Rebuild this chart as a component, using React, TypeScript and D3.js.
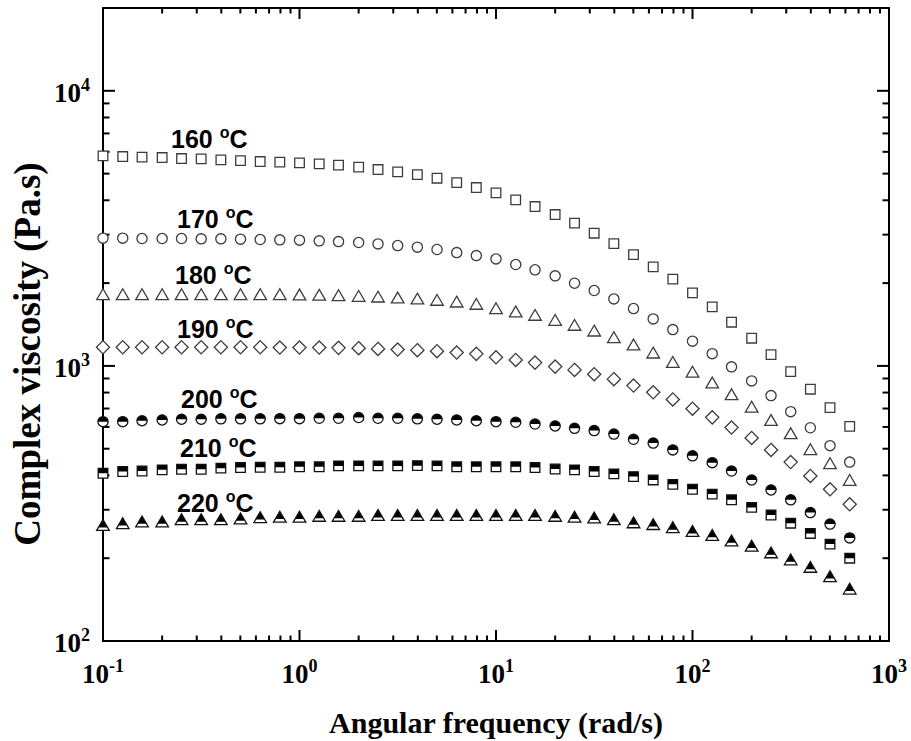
import React from "react";
import * as d3 from "d3";

// Angular frequency (rad/s)
const freq = [
  0.1, 0.126, 0.158, 0.2, 0.251, 0.316, 0.398, 0.501, 0.631, 0.794,
  1, 1.26, 1.58, 2, 2.51, 3.16, 3.98, 5.01, 6.31, 7.94,
  10, 12.6, 15.8, 20, 25.1, 31.6, 39.8, 50.1, 63.1, 79.4,
  100, 126, 158, 200, 251, 316, 398, 501, 631,
];

// Complex viscosity (Pa.s) per temperature
const eta160 = [
  5801, 5768, 5740, 5720, 5672, 5657, 5610, 5577, 5531, 5503,
  5471, 5425, 5367, 5278, 5173, 5075, 4960, 4813, 4639, 4450,
  4256, 4014, 3796, 3550, 3303, 3037, 2784, 2539, 2291, 2067,
  1843, 1639, 1442, 1261, 1099, 953, 823, 705, 603,
];
const eta170 = [
  2913, 2913, 2904, 2904, 2904, 2896, 2896, 2889, 2880, 2872,
  2865, 2848, 2831, 2808, 2777, 2738, 2702, 2649, 2582, 2518,
  2449, 2336, 2235, 2125, 1998, 1879, 1752, 1616, 1482, 1355,
  1230, 1108, 992, 882, 780, 682, 596, 513, 447,
];
const eta180 = [
  1823, 1823, 1823, 1823, 1823, 1823, 1823, 1823, 1823, 1823,
  1817, 1813, 1808, 1797, 1786, 1772, 1757, 1738, 1713, 1681,
  1621, 1576, 1533, 1470, 1410, 1344, 1272, 1196, 1118, 1034,
  953, 870, 789, 711, 636, 569, 498, 443, 385,
];
const eta190 = [
  1169, 1169, 1169, 1169, 1169, 1169, 1169, 1169, 1169, 1166,
  1166, 1166, 1163, 1160, 1153, 1147, 1141, 1131, 1118, 1106,
  1075, 1051, 1028, 994, 967, 933, 895, 848, 802, 755,
  699, 650, 597, 547, 495, 447, 398, 356, 314,
];
const eta200 = [
  627, 627, 632, 636, 640, 640, 642, 642, 642, 643,
  643, 645, 645, 649, 645, 645, 642, 640, 636, 632,
  627, 624, 615, 605, 593, 582, 565, 541, 524, 495,
  471, 445, 415, 385, 354, 326, 293, 266, 237,
];
const eta210 = [
  407, 413, 415, 419, 421, 421, 425, 427, 428, 428,
  430, 430, 433, 433, 433, 433, 434, 433, 430, 430,
  430, 430, 427, 422, 419, 413, 405, 396, 385, 371,
  356, 342, 326, 306, 287, 268, 246, 225, 200,
];
const eta220 = [
  264, 268, 272, 272, 277, 277, 277, 279, 282, 283,
  283, 285, 285, 285, 287, 287, 287, 287, 287, 287,
  287, 287, 287, 285, 283, 281, 277, 270, 266, 259,
  251, 243, 232, 222, 210, 198, 186, 172, 155,
];

const temps = ["160", "170", "180", "190", "200", "210", "220"];
const seriesValues = [eta160, eta170, eta180, eta190, eta200, eta210, eta220];
const markerShapes = ["square", "circle", "triangle", "diamond", "circle", "square", "triangle"];
const markerHalf = [false, false, false, false, true, true, true];

// label layout (pixel anchors, start x / baseline y)
const labelLayout = [
  [171, 148], [177, 228], [175, 284], [177, 338], [181, 408], [180, 457], [177, 512],
];

const W = 911;
const H = 741;
const L = 103, R = 889, T = 8, B = 641;

function shapePath(shape: string): string {
  if (shape === "square") {
    const s = 4.8;
    return `M${-s},${-s}H${s}V${s}H${-s}Z`;
  }
  if (shape === "circle") {
    const r = 5.1;
    return `M${r},0A${r},${r} 0 1,1 ${-r},0A${r},${r} 0 1,1 ${r},0Z`;
  }
  if (shape === "triangle") {
    const w = 6.3, h = 5.4;
    return `M0,${-h}L${w},${h}L${-w},${h}Z`;
  }
  const d = 6.6;
  return `M0,${-d}L${d},0L0,${d}L${-d},0Z`;
}

export default function App() {
  const x = d3.scaleLog().domain([0.1, 1000]).range([L, R]);
  const y = d3.scaleLog().domain([100, 20000]).range([B, T]);

  const xt = x.ticks();
  const yt = y.ticks();
  const isMajor = (v: number) => Math.abs(Math.log10(v) - Math.round(Math.log10(v))) < 1e-6;

  const tickEls: React.ReactNode[] = [];
  xt.forEach((v, i) => {
    const px = x(v);
    if (px <= L + 0.5 || px >= R - 0.5) return;
    const len = isMajor(v) ? 11 : 5.5;
    tickEls.push(<line key={`xb${i}`} x1={px} x2={px} y1={B} y2={B - len} />);
    tickEls.push(<line key={`xt${i}`} x1={px} x2={px} y1={T} y2={T + len} />);
  });
  yt.forEach((v, i) => {
    const py = y(v);
    if (py >= B - 0.5 || py <= T + 0.5) return;
    const len = isMajor(v) ? 12 : 6.5;
    tickEls.push(<line key={`yl${i}`} x1={L} x2={L + len} y1={py} y2={py} />);
    tickEls.push(<line key={`yr${i}`} x1={R} x2={R - len} y1={py} y2={py} />);
  });

  const xMajors = [0.1, 1, 10, 100, 1000];
  const yMajors = [100, 1000, 10000];

  const tickFont = "'Liberation Serif', 'Times New Roman', serif";
  const labelFont = "'Liberation Sans', Arial, sans-serif";

  return (
    <svg
      width={W}
      height={H}
      viewBox={`0 0 ${W} ${H}`}
      style={{ position: "absolute", left: 0, top: 0, background: "#fff" }}
    >
      <defs>
        <clipPath id="topHalf" clipPathUnits="userSpaceOnUse">
          <rect x={-10} y={-10} width={20} height={10} />
        </clipPath>
        <clipPath id="topTri" clipPathUnits="userSpaceOnUse">
          <rect x={-10} y={-10} width={20} height={12.4} />
        </clipPath>
      </defs>
      <rect x={0} y={0} width={W} height={H} fill="#fff" />

      {/* frame and ticks */}
      <g stroke="#000" strokeWidth={2} fill="none">
        {tickEls}
        <rect x={L} y={T} width={R - L} height={B - T} />
      </g>

      {/* data markers */}
      {seriesValues.map((vals, si) => {
        const shape = markerShapes[si];
        const half = markerHalf[si];
        const p = shapePath(shape);
        return (
          <g key={`s${si}`}>
            {vals.map((v, i) => (
              <g key={i} transform={`translate(${x(freq[i])},${y(v)})`}>
                <path d={p} fill="#fff" stroke="none" />
                {half && (
                  <path
                    d={p}
                    fill="#000"
                    stroke="none"
                    clipPath={shape === "triangle" ? "url(#topTri)" : "url(#topHalf)"}
                  />
                )}
                <path
                  d={p}
                  fill="none"
                  stroke={half ? "#111" : "#3c3c3c"}
                  strokeWidth={1.3}
                />
              </g>
            ))}
          </g>
        );
      })}

      {/* temperature labels */}
      {temps.map((t, i) => (
        <text
          key={`lab${i}`}
          x={labelLayout[i][0]}
          y={labelLayout[i][1]}
          fontFamily={labelFont}
          fontWeight="bold"
          fontSize={25}
          fill="#000"
        >
          {t}{" "}
          <tspan fontSize={16} dy={-10}>o</tspan>
          <tspan dy={10}>C</tspan>
        </text>
      ))}

      {/* x tick labels */}
      {xMajors.map((v, i) => {
        const e = Math.round(Math.log10(v));
        return (
          <text
            key={`xl${i}`}
            x={x(v)}
            y={683}
            textAnchor="middle"
            fontFamily={tickFont}
            fontWeight="bold"
            fontSize={27}
            fill="#000"
          >
            10
            <tspan fontSize={18} dy={-11}>{e < 0 ? `-${-e}` : `${e}`}</tspan>
          </text>
        );
      })}

      {/* y tick labels */}
      {yMajors.map((v, i) => {
        const e = Math.round(Math.log10(v));
        return (
          <text
            key={`yl${i}`}
            x={90}
            y={y(v) + 11}
            textAnchor="end"
            fontFamily={tickFont}
            fontWeight="bold"
            fontSize={27}
            fill="#000"
          >
            10
            <tspan fontSize={18} dy={-11}>{`${e}`}</tspan>
          </text>
        );
      })}

      {/* axis titles */}
      <text
        x={(L + R) / 2}
        y={733}
        textAnchor="middle"
        fontFamily={tickFont}
        fontWeight="bold"
        fontSize={30}
        fill="#000"
      >
        Angular frequency (rad/s)
      </text>
      <text
        transform={`translate(40,354) rotate(-90)`}
        textAnchor="middle"
        fontFamily={tickFont}
        fontWeight="bold"
        fontSize={37}
        fill="#000"
      >
        Complex viscosity (Pa.s)
      </text>
    </svg>
  );
}
